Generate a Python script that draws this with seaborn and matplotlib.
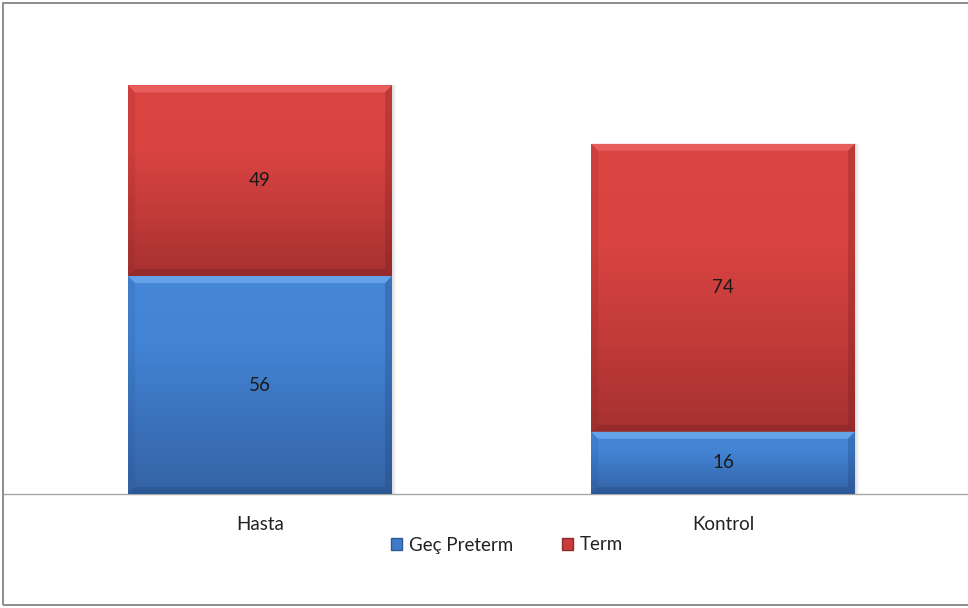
import numpy as np
import pandas as pd
import matplotlib
matplotlib.use("Agg")
import matplotlib.pyplot as plt
from matplotlib.colors import LinearSegmentedColormap
from matplotlib.patches import Rectangle, Patch
import seaborn as sns

# Data
categories = ["Hasta", "Kontrol"]
gec_preterm = [56, 16]
term = [49, 74]
series_names = ["Geç Preterm", "Term"]

sns.set_theme(style="white")
plt.rcParams["font.family"] = ["Lato", "DejaVu Sans"]

df = pd.DataFrame({"grup": categories, "gec": gec_preterm, "term": term})
df["toplam"] = df["gec"] + df["term"]

W, H = 968, 608
fig = plt.figure(figsize=(W / 100, H / 100), dpi=100)
fig.patch.set_facecolor("white")

# Outer frame
fig.patches.append(Rectangle((3 / W, 3.5 / H), 1.2, (H - 6) / H, transform=fig.transFigure,
                             fill=False, edgecolor="#8c8c8c", linewidth=1.4, zorder=0))

ax = fig.add_axes([4 / W, (H - 494) / H, 964 / W, 467 / H])
ax.set_facecolor("none")

red = "#C93C3A"
blue = "#3F7BC9"

sns.barplot(data=df, x="grup", y="toplam", color=red, width=0.57, saturation=1,
            ax=ax, zorder=2, linewidth=0)
sns.barplot(data=df, x="grup", y="gec", color=blue, width=0.57, saturation=1,
            ax=ax, zorder=3, linewidth=0)

ax.set_ylim(0, 120)
ax.set_xlim(-0.553, 1.529)

red_cmap = LinearSegmentedColormap.from_list("r", ["#A63231", "#C23B39", "#D94441", "#DB4643"])
blue_cmap = LinearSegmentedColormap.from_list("b", ["#3564A6", "#3B72BC", "#4283D3", "#4687D8"])

patches = list(ax.patches)
n = len(categories)
red_patches = patches[:n]
blue_patches = patches[n:]


def shade(patch, y0, y1, cmap, z, top_hi, bot_lo):
    x0 = patch.get_x()
    x1 = x0 + patch.get_width()
    grad = np.linspace(0, 1, 256).reshape(-1, 1)
    im = ax.imshow(grad, extent=(x0, x1, y0, y1), origin="lower", cmap=cmap,
                   aspect="auto", zorder=z, interpolation="bicubic")
    im.set_clip_path(patch)
    # bevel: light top band, dark bottom band, dark side edges
    px_y = 120 / 467.0
    px_x = 2.082 / 964.0
    bw = 7
    ax.fill([x0, x1, x1 - bw * px_x, x0 + bw * px_x],
            [y1, y1, y1 - bw * px_y, y1 - bw * px_y],
            color=top_hi, alpha=0.6, zorder=z + 0.01, linewidth=0)
    ax.fill([x0, x1, x1 - bw * px_x, x0 + bw * px_x],
            [y0, y0, y0 + bw * px_y, y0 + bw * px_y],
            color=bot_lo, alpha=0.3, zorder=z + 0.01, linewidth=0)
    ax.fill([x0, x0 + bw * px_x, x0 + bw * px_x, x0],
            [y0, y0 + bw * px_y, y1 - bw * px_y, y1],
            color=bot_lo, alpha=0.12, zorder=z + 0.01, linewidth=0)
    ax.fill([x1, x1 - bw * px_x, x1 - bw * px_x, x1],
            [y0, y0 + bw * px_y, y1 - bw * px_y, y1],
            color=bot_lo, alpha=0.28, zorder=z + 0.01, linewidth=0)
    # soft shadow on the right
    for k in range(1, 5):
        ax.add_patch(Rectangle((x1, y0), k * px_x, y1 - y0, color="#000000",
                               alpha=0.03, zorder=1, linewidth=0))


for i, p in enumerate(red_patches):
    shade(p, gec_preterm[i], gec_preterm[i] + term[i], red_cmap, 2.1, "#F07070", "#6e1a1a")
for i, p in enumerate(blue_patches):
    shade(p, 0, gec_preterm[i], blue_cmap, 3.1, "#7DB6F5", "#1d3f73")

# Value labels centred in each segment
for i in range(n):
    ax.text(i, gec_preterm[i] / 2, str(gec_preterm[i]), ha="center", va="center",
            fontsize=13.5, color="#1a1a1a", zorder=5)
    ax.text(i, gec_preterm[i] + term[i] / 2, str(term[i]), ha="center", va="center",
            fontsize=13.5, color="#1a1a1a", zorder=5)

ax.set_xlabel("")
ax.set_ylabel("")
ax.set_yticks([])
ax.tick_params(axis="x", length=0, pad=15.5, labelsize=13.5, labelcolor="#222222")
for s in ["top", "right", "left"]:
    ax.spines[s].set_visible(False)
ax.spines["bottom"].set_color("#a6a6a6")
ax.spines["bottom"].set_linewidth(1.0)

handles = [Patch(facecolor=blue, edgecolor="#2c5a99", label=series_names[0]),
           Patch(facecolor=red, edgecolor="#8e2a29", label=series_names[1])]
fig.legend(handles=handles, loc="center", bbox_to_anchor=(507 / W, 1 - 545 / H), ncol=2,
           frameon=False, fontsize=13.5, handlelength=0.6, handleheight=0.6,
           handletextpad=0.35, columnspacing=2.6, labelcolor="#222222")

fig.savefig("out.png", dpi=100, facecolor="white")
